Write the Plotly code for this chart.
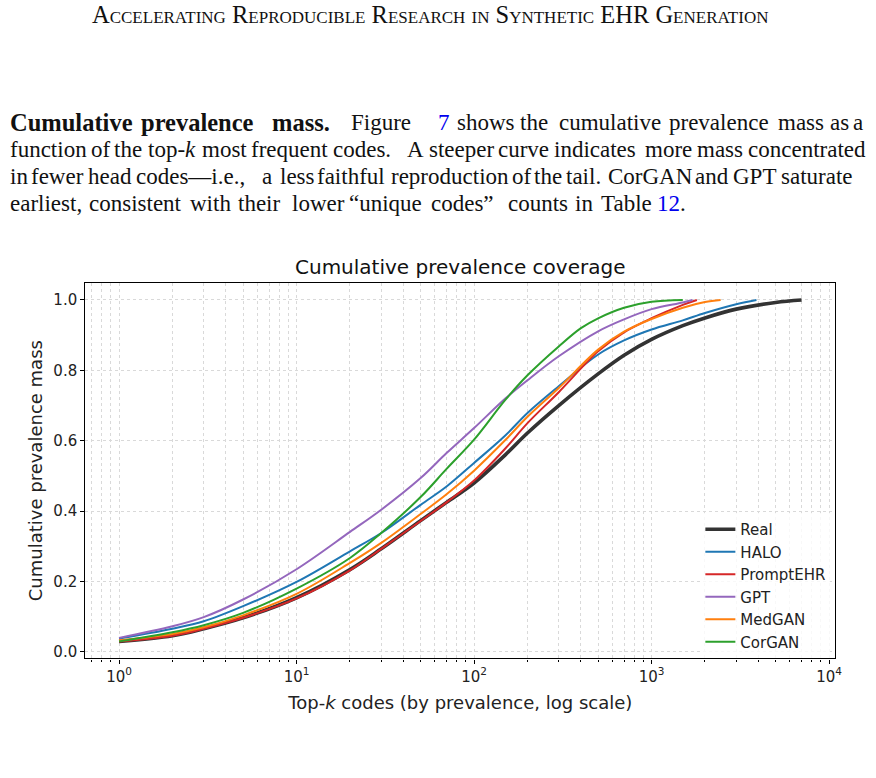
import plotly.graph_objects as go

W, H = 876, 778

# ---------------- data ----------------
SERIES = ["Real", "HALO", "PromptEHR", "GPT", "MedGAN", "CorGAN"]
K_REAL = [1, 2, 3, 5, 10, 20, 30, 50, 70, 100, 150, 200, 300, 500, 700, 1000, 1500, 2000, 3000, 5000, 7000]
Y_REAL = [0.030, 0.046, 0.066, 0.097, 0.154, 0.234, 0.293, 0.373, 0.425, 0.480, 0.560, 0.622, 0.700, 0.790, 0.843, 0.888, 0.927, 0.949, 0.974, 0.993, 1.0]
K_HALO = [1, 2, 3, 5, 10, 20, 30, 50, 70, 100, 150, 200, 300, 500, 700, 1000, 1500, 2000, 3000, 3900]
Y_HALO = [0.038, 0.066, 0.087, 0.130, 0.199, 0.286, 0.338, 0.418, 0.470, 0.537, 0.615, 0.679, 0.755, 0.845, 0.885, 0.916, 0.942, 0.963, 0.988, 1.0]
K_PROMPT = [1, 2, 3, 5, 10, 20, 30, 50, 70, 100, 150, 200, 300, 500, 700, 1000, 1500, 1800]
Y_PROMPT = [0.030, 0.046, 0.066, 0.097, 0.152, 0.232, 0.293, 0.372, 0.425, 0.487, 0.578, 0.650, 0.738, 0.854, 0.908, 0.948, 0.986, 1.0]
K_GPT = [1, 2, 3, 5, 10, 20, 30, 50, 70, 100, 150, 200, 300, 500, 700, 1000, 1500, 1700]
Y_GPT = [0.040, 0.073, 0.099, 0.149, 0.235, 0.341, 0.404, 0.494, 0.565, 0.636, 0.720, 0.772, 0.840, 0.911, 0.945, 0.974, 0.993, 1.0]
K_MED = [1, 2, 3, 5, 10, 20, 30, 50, 70, 100, 150, 200, 300, 500, 700, 1000, 1500, 2000, 2450]
Y_MED = [0.033, 0.051, 0.070, 0.104, 0.165, 0.253, 0.310, 0.392, 0.448, 0.515, 0.602, 0.668, 0.750, 0.859, 0.910, 0.946, 0.978, 0.994, 1.0]
K_COR = [1, 2, 3, 5, 10, 20, 30, 50, 70, 100, 150, 200, 300, 400, 500, 700, 1000, 1500]
Y_COR = [0.030, 0.056, 0.076, 0.111, 0.180, 0.267, 0.338, 0.440, 0.520, 0.603, 0.716, 0.786, 0.868, 0.920, 0.948, 0.978, 0.995, 1.0]

X_TICKS = [1, 10, 100, 1000, 10000]
X_TICK_TEXT = ["10<sup>0</sup>", "10<sup>1</sup>", "10<sup>2</sup>", "10<sup>3</sup>", "10<sup>4</sup>"]
Y_TICKS = [0.0, 0.2, 0.4, 0.6, 0.8, 1.0]

TITLE = "Cumulative prevalence coverage"
X_LABEL = "Top-<i>k</i> codes (by prevalence, log scale)"
Y_LABEL = "Cumulative prevalence mass"
HEADER = "Accelerating Reproducible Research in Synthetic EHR Generation"

LINK = "#0000ee"
PARA_LINES = [
    [("<b>Cumulative</b>", 8), ("<b>prevalence</b>", 140), ("<b>mass.</b>", 272), ("Figure", 352),
     (f"<span style='color:{LINK}'>7</span>", 440), ("shows", 459), ("the", 522), ("cumulative", 561),
     ("prevalence", 672), ("mass", 782), ("as", 835), ("a", 858)],
    [("function", 8), ("of", 90), ("the", 113), ("top-<i>k</i>", 147), ("most", 202), ("frequent", 251),
     ("codes.", 334), ("A", 408), ("steeper", 430), ("curve", 500), ("indicates", 556), ("more", 648),
     ("mass", 701), ("concentrated", 752)],
    [("in", 8), ("fewer", 29), ("head", 87), ("codes—i.e.,", 135), ("a", 262), ("less", 280), ("faithful", 318),
     ("reproduction", 392), ("of", 514), ("the", 536), ("tail.", 569), ("CorGAN", 611), ("and", 699),
     ("GPT", 737), ("saturate", 785)],
    [("earliest,", 8), ("consistent", 88), ("with", 190), ("their", 238), ("lower", 292), ("“unique", 350),
     ("codes”", 432), ("counts", 510), ("in", 578), ("Table", 604),
     (f"<span style='color:{LINK}'>12</span>.", 660)],
]
PARA_Y = [123, 150, 177, 204]
BOLD_SIZE = 24.5
BODY_SIZE = 23

# ---------------- figure ----------------
COLORS = {"Real": "#333333", "HALO": "#1f77b4", "PromptEHR": "#d62728",
          "GPT": "#9467bd", "MedGAN": "#ff7f0e", "CorGAN": "#2ca02c"}
WIDTHS = {"Real": 3.6, "HALO": 2.0, "PromptEHR": 2.0, "GPT": 2.0, "MedGAN": 2.0, "CorGAN": 2.0}
DATA = {"Real": (K_REAL, Y_REAL), "HALO": (K_HALO, Y_HALO), "PromptEHR": (K_PROMPT, Y_PROMPT),
        "GPT": (K_GPT, Y_GPT), "MedGAN": (K_MED, Y_MED), "CorGAN": (K_COR, Y_COR)}

fig = go.Figure()
for name in SERIES:
    k, y = DATA[name]
    fig.add_trace(go.Scatter(
        x=k, y=y, mode="lines", name=name,
        line=dict(color=COLORS[name], width=WIDTHS[name], shape="spline", smoothing=1.0),
    ))

# plot area in pixels
PL, PR, PT, PB = 86, 842, 284, 661
dom_x = [PL / W, PR / W]
dom_y = [1 - PB / H, 1 - PT / H]

minor_vals = []
for d in [0.1, 1, 10, 100, 1000]:
    for m in range(2, 10):
        minor_vals.append(d * m)

grid_col = "#d9d9d9"
fig.update_xaxes(
    type="log", domain=dom_x, range=[-0.19, 4.035],
    tickmode="array", tickvals=X_TICKS, ticktext=X_TICK_TEXT,
    ticks="outside", ticklen=4, tickwidth=1, tickcolor="black",
    showline=True, linecolor="black", linewidth=1.2, mirror=True,
    showgrid=True, gridcolor=grid_col, griddash="dot", gridwidth=1,
    minor=dict(tickmode="array", tickvals=minor_vals, ticks="outside", ticklen=2.5,
               tickcolor="black", showgrid=True, gridcolor=grid_col, griddash="dot", gridwidth=1),
    tickfont=dict(family="DejaVu Sans", size=15, color="#222"),
    title=dict(text=X_LABEL, font=dict(family="DejaVu Sans", size=18, color="#222"), standoff=11),
    zeroline=False,
)
fig.update_yaxes(
    domain=dom_y, range=[-0.0185, 1.0485],
    tickmode="array", tickvals=Y_TICKS, ticktext=[f"{v:.1f}" for v in Y_TICKS],
    ticks="outside", ticklen=4, tickwidth=1, tickcolor="black",
    showline=True, linecolor="black", linewidth=1.2, mirror=True,
    showgrid=True, gridcolor=grid_col, griddash="dot", gridwidth=1,
    tickfont=dict(family="DejaVu Sans", size=15, color="#222"),
    title=dict(text=Y_LABEL, font=dict(family="DejaVu Sans", size=18, color="#222"), standoff=6),
    zeroline=False,
)

annotations = [
    dict(text=TITLE, x=(PL + PR) / 2 / W, y=1 - 268 / H, xref="paper", yref="paper",
         xanchor="center", yanchor="middle", showarrow=False,
         font=dict(family="DejaVu Sans", size=20, color="#111")),
    dict(text=HEADER, x=433 / W, y=1 - 15 / H, xref="paper", yref="paper",
         xanchor="center", yanchor="middle", showarrow=False,
         font=dict(family="Liberation Serif", size=24.5, color="#111", variant="small-caps")),
]
for line, yy in zip(PARA_LINES, PARA_Y):
    for word, xx in line:
        size = BOLD_SIZE if word.startswith("<b>") else BODY_SIZE
        annotations.append(dict(
            text=word, x=xx / W, y=1 - yy / H, xref="paper", yref="paper",
            xanchor="left", yanchor="middle", showarrow=False,
            font=dict(family="Liberation Serif", size=size, color="#111")))

fig.update_layout(
    width=W, height=H, margin=dict(l=0, r=0, t=0, b=0),
    paper_bgcolor="white", plot_bgcolor="white",
    annotations=annotations,
    legend=dict(x=706 / W, y=1 - 515 / H, xanchor="left", yanchor="top",
                bgcolor="rgba(255,255,255,0.8)", borderwidth=0,
                font=dict(family="DejaVu Sans", size=15, color="#222"),
                tracegroupgap=0, itemwidth=30),
    showlegend=True,
)

fig.write_html("out.html")
